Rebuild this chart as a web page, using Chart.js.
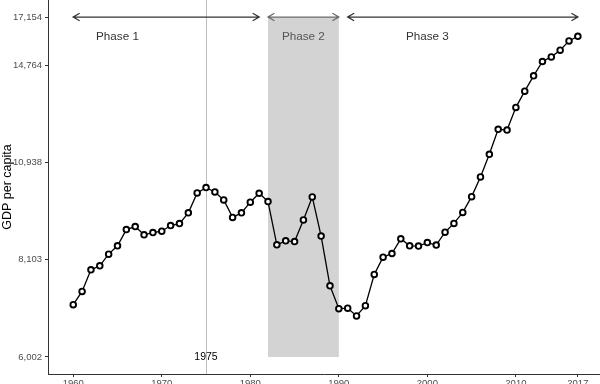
<!DOCTYPE html>
<html>
<head>
<meta charset="utf-8">
<script src="https://cdn.jsdelivr.net/npm/chart.js@4"></script>
<style>
  html, body { margin: 0; padding: 0; background: #fff; }
  canvas { display: block; }
</style>
</head>
<body>
<canvas id="gdpChart" width="600" height="384"></canvas>
<script>
// Data
const years = [1960, 1961, 1962, 1963, 1964, 1965, 1966, 1967, 1968, 1969,
               1970, 1971, 1972, 1973, 1974, 1975, 1976, 1977, 1978, 1979,
               1980, 1981, 1982, 1983, 1984, 1985, 1986, 1987, 1988, 1989,
               1990, 1991, 1992, 1993, 1994, 1995, 1996, 1997, 1998, 1999,
               2000, 2001, 2002, 2003, 2004, 2005, 2006, 2007, 2008, 2009,
               2010, 2011, 2012, 2013, 2014, 2015, 2016, 2017];
const gdpPerCapita = [7054, 7349, 7857, 7955, 8247, 8461, 8897, 8980, 8754, 8815,
                      8853, 9008, 9064, 9368, 9964, 10128, 9994, 9751, 9238, 9368,
                      9682, 9954, 9700, 8487, 8592, 8574, 9167, 9841, 8719, 7479,
                      6968, 6979, 6814, 7033, 7745, 8171, 8263, 8646, 8461, 8454,
                      8547, 8480, 8826, 9069, 9382, 9850, 10468, 11226, 12127, 12100,
                      12977, 13645, 14304, 14953, 15167, 15484, 15934, 16166];

const xTickValues = [1960, 1970, 1980, 1990, 2000, 2010, 2017];
const yTickValues = [6002.91, 8103.08, 10938.02, 14764.78, 17154.23];
const yTickLabels = ['6,002', '8,103', '10,938', '14,764', '17,154'];

// Phases
const phaseLabels = ['Phase 1', 'Phase 2', 'Phase 3'];
const phaseStart = [1960, 1982, 1991];
const phaseEnd = [1981, 1990, 2017];
const phaseLabelX = [1965, 1986, 2000];
const shadedYears = [1982, 1990];
const markerYear = 1975;

const phasePlugin = {
    id: 'phasePlugin',
    beforeDatasetsDraw(chart) {
        const {ctx, chartArea, scales: {x, y}} = chart;
        ctx.save();
        // shaded phase 2 band
        const x0 = x.getPixelForValue(shadedYears[0]);
        const x1 = x.getPixelForValue(shadedYears[1]);
        const yTop = y.getPixelForValue(yTickValues[4]);
        const yBot = y.getPixelForValue(yTickValues[0]);
        ctx.fillStyle = '#d3d3d3';
        ctx.fillRect(x0, yTop, x1 - x0, yBot - yTop);
        // 1975 line
        const xm = Math.round(x.getPixelForValue(markerYear)) + 0.5;
        ctx.strokeStyle = '#bebebe';
        ctx.lineWidth = 1;
        ctx.beginPath();
        ctx.moveTo(xm, chartArea.top);
        ctx.lineTo(xm, chartArea.bottom);
        ctx.stroke();
        ctx.fillStyle = '#000';
        ctx.font = '10.5px "Liberation Sans", Arial, sans-serif';
        ctx.textAlign = 'center';
        ctx.textBaseline = 'middle';
        ctx.fillText(String(markerYear), x.getPixelForValue(markerYear), yBot);
        ctx.restore();
    },
    afterDatasetsDraw(chart) {
        const {ctx, scales: {x, y}} = chart;
        const arrowColors = ['#333333', '#6b6b6b', '#333333'];
        const textColors = ['#333333', '#555555', '#333333'];
        const ay = y.getPixelForValue(yTickValues[4]);
        const ty = y.getPixelForValue(16150);
        ctx.save();
        ctx.lineWidth = 1.3;
        ctx.lineCap = 'round';
        phaseLabels.forEach((label, i) => {
            const xa = x.getPixelForValue(phaseStart[i]);
            const xb = x.getPixelForValue(phaseEnd[i]);
            ctx.strokeStyle = arrowColors[i];
            ctx.beginPath();
            ctx.moveTo(xa, ay);
            ctx.lineTo(xb, ay);
            // open arrow heads
            ctx.moveTo(xa + 6, ay - 3.5);
            ctx.lineTo(xa, ay);
            ctx.lineTo(xa + 6, ay + 3.5);
            ctx.moveTo(xb - 6, ay - 3.5);
            ctx.lineTo(xb, ay);
            ctx.lineTo(xb - 6, ay + 3.5);
            ctx.stroke();

            ctx.fillStyle = textColors[i];
            ctx.font = '11.7px "Liberation Sans", Arial, sans-serif';
            ctx.textAlign = 'center';
            ctx.textBaseline = 'middle';
            ctx.fillText(label, x.getPixelForValue(phaseLabelX[i]), ty);
        });
        ctx.restore();
    }
};

const tickFont = {family: '"Liberation Sans", Arial, sans-serif', size: 9.5};

function noPadding(scale) {
    scale.paddingTop = 0;
    scale.paddingBottom = 0;
    scale.paddingLeft = 0;
    scale.paddingRight = 0;
}

new Chart(document.getElementById('gdpChart').getContext('2d'), {
    type: 'line',
    data: {
        datasets: [{
            data: years.map((yr, i) => ({x: yr, y: gdpPerCapita[i]})),
            borderColor: '#000',
            borderWidth: 1.3,
            pointRadius: 2.8,
            pointBorderWidth: 1.9,
            pointBackgroundColor: '#fff',
            pointBorderColor: '#000',
            tension: 0
        }]
    },
    options: {
        responsive: false,
        animation: false,
        devicePixelRatio: 1,
        layout: { padding: 0, autoPadding: false },
        plugins: {
            legend: { display: false },
            tooltip: { enabled: false }
        },
        scales: {
            x: {
                type: 'linear',
                position: 'bottom',
                min: 1957.15,
                max: 2019.5,
                afterBuildTicks: scale => {
                    scale.ticks = xTickValues.map(v => ({value: v}));
                },
                afterFit: scale => { scale.height = 10; noPadding(scale); },
                grid: { drawOnChartArea: false, drawTicks: true, tickLength: 3, color: '#333' },
                border: { display: true, color: '#333', width: 1 },
                ticks: {
                    autoSkip: false,
                    maxRotation: 0,
                    padding: 1,
                    color: '#4d4d4d',
                    font: tickFont,
                    callback: v => String(v)
                }
            },
            y: {
                type: 'logarithmic',
                position: 'left',
                min: 5695,
                max: 18081,
                afterBuildTicks: scale => {
                    scale.ticks = yTickValues.map(v => ({value: v}));
                },
                afterFit: scale => { scale.width = 48; noPadding(scale); },
                grid: { drawOnChartArea: false, drawTicks: true, tickLength: 3, color: '#333' },
                border: { display: true, color: '#333', width: 1 },
                ticks: {
                    autoSkip: false,
                    padding: 3,
                    color: '#4d4d4d',
                    font: tickFont,
                    callback: (v, i) => yTickLabels[i]
                },
                title: {
                    display: true,
                    text: 'GDP per capita',
                    color: '#000',
                    font: {family: '"Liberation Sans", Arial, sans-serif', size: 12.5},
                    padding: 0
                }
            }
        }
    },
    plugins: [phasePlugin]
});
</script>
</body>
</html>
